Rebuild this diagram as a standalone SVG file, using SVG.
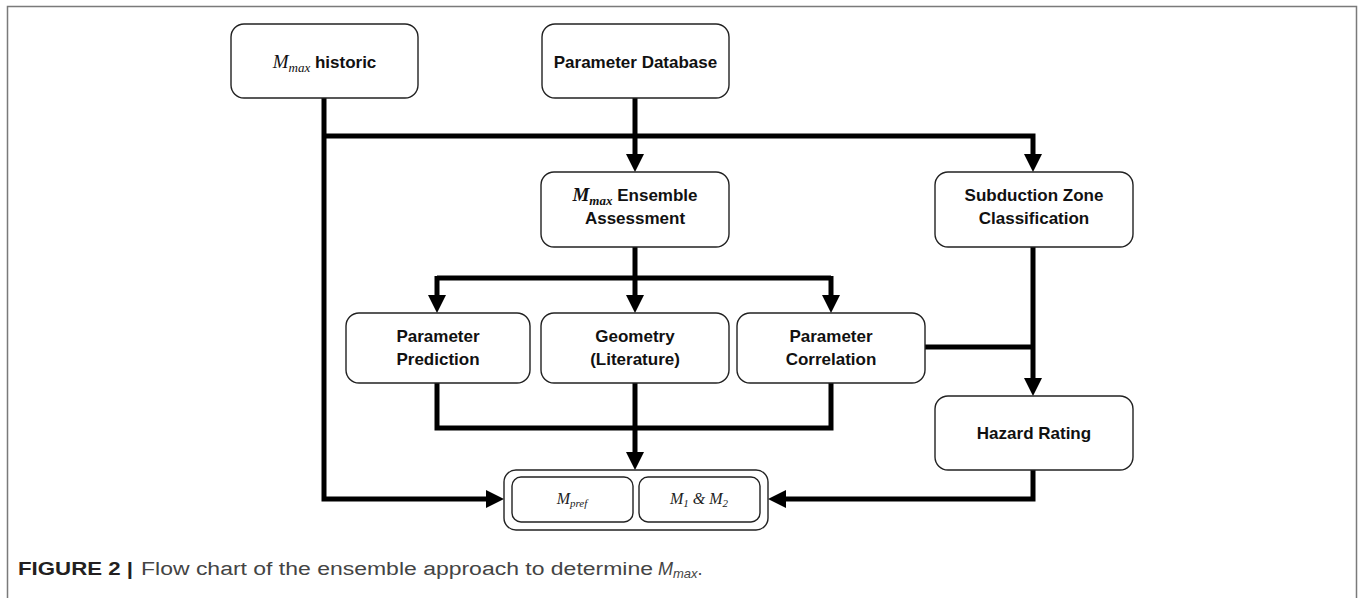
<svg xmlns="http://www.w3.org/2000/svg" width="1360" height="598" viewBox="0 0 1360 598">
<defs>
<style>
.box{fill:#fff;stroke:#222;stroke-width:1.4}
.lbl{font-family:"Liberation Sans",Arial,sans-serif;font-weight:bold;font-size:17px;fill:#111;text-anchor:middle}
.m{font-family:"Liberation Serif","Times New Roman",serif;font-style:italic;font-weight:normal}
.mb{font-family:"Liberation Serif","Times New Roman",serif;font-style:italic;font-weight:bold}
.conn{fill:none;stroke:#000;stroke-width:5;stroke-linejoin:miter}
.arr{marker-end:url(#ah)}
.frame{fill:none;stroke:#7a7a7a;stroke-width:1.5}
.cap{font-family:"Liberation Sans",Arial,sans-serif;font-size:18px}
</style>
<marker id="ah" markerUnits="userSpaceOnUse" markerWidth="18" markerHeight="18" refX="0" refY="9" orient="auto" viewBox="0 0 18 18">
<path d="M0,0 L18,9 L0,18 Z" fill="#000"/>
</marker>
</defs>
<path class="frame" d="M7.5,598 V6.5 H1356.5 V598"/>
<g id="connectors">
<path class="conn arr" d="M324,98 V499 H486"/>
<path class="conn arr" d="M324,136 H1033 V154"/>
<path class="conn arr" d="M635,98 V154"/>
<path class="conn arr" d="M635,247 V295"/>
<path class="conn" d="M437,278 H831"/>
<path class="conn arr" d="M437,276 V295"/>
<path class="conn arr" d="M831,276 V295"/>
<path class="conn arr" d="M1033,247 V378"/>
<path class="conn" d="M925,347 H1033"/>
<path class="conn" d="M437,383 V428 H831 V383"/>
<path class="conn arr" d="M635,383 V452"/>
<path class="conn arr" d="M1033,470 V499 H786"/>
</g>
<g id="mmax-historic">
<rect class="box" x="231" y="24" width="187" height="74" rx="13"/>
<text class="lbl" x="324.5" y="68"><tspan class="m" font-size="19">M</tspan><tspan class="m" font-size="13" dy="4">max</tspan><tspan dy="-4"> historic</tspan></text>
</g>
<g id="parameter-database">
<rect class="box" x="542" y="24" width="187" height="74" rx="13"/>
<text class="lbl" x="635.5" y="68">Parameter Database</text>
</g>
<g id="ensemble-assessment">
<rect class="box" x="541" y="172" width="188" height="75" rx="13"/>
<text class="lbl" x="635" y="201"><tspan class="mb" font-size="19">M</tspan><tspan class="mb" font-size="13" dy="4">max</tspan><tspan dy="-4"> Ensemble</tspan></text>
<text class="lbl" x="635" y="224">Assessment</text>
</g>
<g id="subduction-zone">
<rect class="box" x="935" y="172" width="198" height="75" rx="13"/>
<text class="lbl" x="1034" y="201">Subduction Zone</text>
<text class="lbl" x="1034" y="224">Classification</text>
</g>
<g id="parameter-prediction">
<rect class="box" x="346" y="313" width="184" height="70" rx="13"/>
<text class="lbl" x="438" y="342">Parameter</text>
<text class="lbl" x="438" y="365">Prediction</text>
</g>
<g id="geometry">
<rect class="box" x="541" y="313" width="188" height="70" rx="13"/>
<text class="lbl" x="635" y="342">Geometry</text>
<text class="lbl" x="635" y="365">(Literature)</text>
</g>
<g id="parameter-correlation">
<rect class="box" x="737" y="313" width="188" height="70" rx="13"/>
<text class="lbl" x="831" y="342">Parameter</text>
<text class="lbl" x="831" y="365">Correlation</text>
</g>
<g id="hazard-rating">
<rect class="box" x="935" y="396" width="198" height="74" rx="13"/>
<text class="lbl" x="1034" y="439">Hazard Rating</text>
</g>
<g id="result">
<rect class="box" x="504" y="470" width="264" height="60" rx="12"/>
<rect class="box" x="512" y="477" width="121" height="45" rx="9"/>
<rect class="box" x="639" y="477" width="121" height="45" rx="9"/>
<text class="m" x="572" y="504" font-size="16" fill="#222" text-anchor="middle">M<tspan font-size="11" dy="3">pref</tspan></text>
<text class="m" x="699" y="504" font-size="16" fill="#222" text-anchor="middle">M<tspan font-size="11" dy="3">1</tspan><tspan dy="-3"> &amp; M</tspan><tspan font-size="11" dy="3">2</tspan></text>
</g>
<g id="caption">
<text class="cap" x="18" y="575" font-weight="bold" fill="#231f20" textLength="115" lengthAdjust="spacingAndGlyphs">FIGURE 2 |</text>
<text class="cap" x="141" y="575" fill="#444" textLength="512" lengthAdjust="spacingAndGlyphs">Flow chart of the ensemble approach to determine</text>
<text class="cap" x="658" y="575" fill="#444"><tspan font-style="italic">M</tspan><tspan font-style="italic" font-size="13" dy="3">max</tspan><tspan dy="-3">.</tspan></text>
</g>
</svg>
